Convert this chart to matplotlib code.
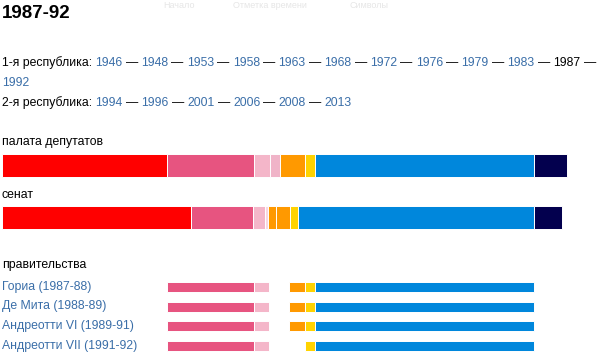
import matplotlib.pyplot as plt

plt.rcParams['font.family'] = ['Liberation Sans', 'DejaVu Sans']

# chamber of deputies, seats left to right
chamber_parties = ["PCI", "PSI", "PSDI", "PR", "PRI", "PLI", "DC", "MSI"]
chamber_seats = [176.5, 93, 17.5, 10.5, 26.5, 10.5, 235, 35]
chamber_colors = ['#FF0000', '#E75480', '#F4B6C9', '#F0B4C8', '#FF9900',
                  '#FFD300', '#0087DC', '#03004E']

# senate (315 seats, drawn at double scale)
senate_seats = [101, 33.5, 6, 2, 4, 7.8, 4, 126.5, 14.7]
senate_colors = ['#FF0000', '#E75480', '#F4B6C9', '#F9D6E1', '#FF9900',
                 '#FF9900', '#FFD300', '#0087DC', '#03004E']

# governments and their parties
gov_names = ["Гориа (1987-88)", "Де Мита (1988-89)",
             "Андреотти VI (1989-91)", "Андреотти VII (1991-92)"]
gov_parties = [["PSI", "PSDI", "PRI", "PLI", "DC"],
               ["PSI", "PSDI", "PRI", "PLI", "DC"],
               ["PSI", "PSDI", "PRI", "PLI", "DC"],
               ["PSI", "PSDI", "PLI", "DC"]]
gov_seats = {"PSI": 93, "PSDI": 16, "PRI": 17, "PLI": 10.5, "DC": 235}

rep1_years = ["1946", "1948", "1953", "1958", "1963", "1968", "1972",
              "1976", "1979", "1983", "1987"]
rep2_years = ["1994", "1996", "2001", "2006", "2008", "2013"]
current = "1987"

LINK = '#3a6ea8'
FS = 8.8
SP = 3.2  # space width, px
PX = 0.9347  # pixels per chamber seat

fig = plt.figure(figsize=(6, 3.53), dpi=100)
tx = fig.add_axes([0, 0, 1, 1])
tx.set_xlim(0, 600)
tx.set_ylim(353, 0)
tx.axis('off')

bx = fig.add_axes([2 / 600, 0, 630 * PX / 600, 1])
bx.set_xlim(0, 630)
bx.set_ylim(353, 0)
bx.axis('off')

# faint page header
for x, s in [(163, "Начало"), (233, "Отметка времени"), (350, "Символы")]:
    tx.text(x, 5, s, fontsize=6.5, color='#e6e6e6', va='center')

tx.text(2, 13, "1987-92", fontsize=13.5, fontweight='bold', va='center')


def year_line(y, label, years, wrap_after=None):
    t = tx.text(2, y, label, fontsize=FS, va='center')
    for i, yr in enumerate(years):
        col = 'black' if yr == current else LINK
        t = tx.annotate(yr, xy=(1, 0), xycoords=t, xytext=(SP, 0),
                        textcoords='offset pixels', fontsize=FS, color=col,
                        va='bottom')
        if i < len(years) - 1 or wrap_after:
            t = tx.annotate("—", xy=(1, 0), xycoords=t, xytext=(SP, 0),
                            textcoords='offset pixels', fontsize=FS,
                            va='bottom')


year_line(63, "1-я республика:", rep1_years, wrap_after=True)
tx.text(2, 83, "1992", fontsize=FS, color=LINK, va='center')
year_line(103, "2-я республика:", rep2_years)

tx.text(2, 142, "палата депутатов", fontsize=FS, va='center')
tx.text(2, 195, "сенат", fontsize=FS, va='center')
tx.text(2, 265, "правительства", fontsize=FS, va='center')

# chamber bar
left = 0
starts = {}
for p, s, c in zip(chamber_parties, chamber_seats, chamber_colors):
    starts[p] = (left, left + s, c)
    bx.barh(165.5, s, left=left, height=23.5, color=c,
            edgecolor='white', linewidth=0.7)
    left += s

# senate bar
left = 0
for s, c in zip(senate_seats, senate_colors):
    bx.barh(217.5, s * 2, left=left, height=23.5, color=c,
            edgecolor='white', linewidth=0.7)
    left += s * 2

# government bars, aligned with chamber segments
gov_y = [287, 306.5, 326, 345.5]
for name, parties, y in zip(gov_names, gov_parties, gov_y):
    tx.text(2, y, name, fontsize=FS, color=LINK, va='center')
    for p in parties:
        a, b, c = starts[p]
        w = gov_seats[p]
        x0 = b - w if p == "PRI" else a
        bx.barh(y, w, left=x0, height=10, color=c,
                edgecolor='white', linewidth=0.7)

fig.savefig('out.png', dpi=100)
